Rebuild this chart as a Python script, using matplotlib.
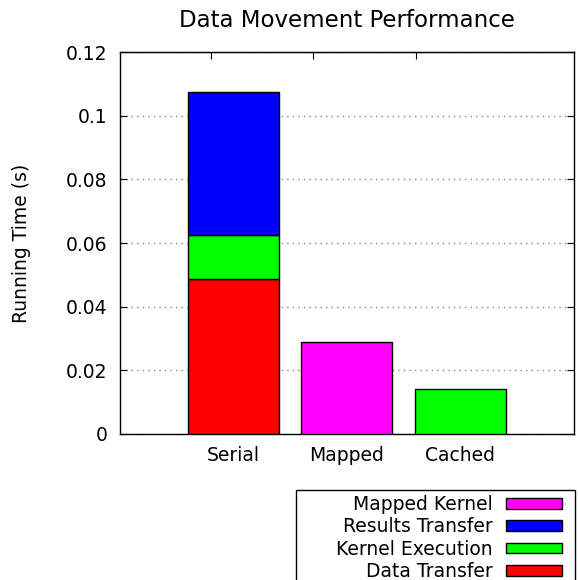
import numpy as np
import matplotlib
matplotlib.use("Agg")
import matplotlib.pyplot as plt
from matplotlib.patches import Patch, Rectangle

# data
categories = ["Serial", "Mapped", "Cached"]
data_transfer = [0.0487, 0, 0]
kernel_exec = [0.0138, 0, 0.0141]
results_transfer = [0.0450, 0, 0]
mapped_kernel = [0, 0.0288, 0]
yticks = [0, 0.02, 0.04, 0.06, 0.08, 0.1, 0.12]
ytick_labels = ["0", "0.02", "0.04", "0.06", "0.08", "0.1", "0.12"]

plt.rcParams['font.family'] = ['DejaVu Sans']
fig = plt.figure(figsize=(5.79, 5.80), dpi=100)
ax = fig.add_axes([0.207, 0.252, 0.784, 0.658])

x = np.arange(len(categories))
w = 0.8
dt = np.array(data_transfer)
ke = np.array(kernel_exec)
rt = np.array(results_transfer)
mk = np.array(mapped_kernel)

# serial stack + mapped + cached
ax.bar(x[0], dt[0], w, color="#ff0000", edgecolor="black", linewidth=1, zorder=3)
ax.bar(x[0], ke[0], w, bottom=dt[0], color="#00ff00", edgecolor="black", linewidth=1, zorder=3)
ax.bar(x[0], rt[0], w, bottom=dt[0] + ke[0], color="#0000ff", edgecolor="black", linewidth=1, zorder=3)
ax.bar(x[1], mk[1], w, color="#ff00ff", edgecolor="black", linewidth=1, zorder=3)
ax.bar(x[2], ke[2], w, color="#00ff00", edgecolor="black", linewidth=1, zorder=3)

ax.set_xlim(-1.0, 3.0)
ax.set_ylim(0, 0.12)
ax.set_xticks(x)
ax.set_xticklabels(categories, fontsize=13.5)
ax.tick_params(axis="x", length=0, pad=9)
ax.set_yticks(yticks)
ax.set_yticklabels(ytick_labels, fontsize=13.5)
ax.tick_params(axis="y", direction="in", length=5, right=True, pad=9)
ax.yaxis.grid(True, linestyle=(0, (1, 3)), color="#888888", linewidth=1, zorder=1)

# little ticks on the top border
top = ax.secondary_xaxis("top")
top.set_xticks([-0.2, 0.7, 1.61])
top.set_xticklabels([])
top.tick_params(direction="in", length=5)

for s in ax.spines.values():
    s.set_linewidth(1)

ax.set_ylabel("Running Time (s)", fontsize=13.5, labelpad=25)
ax.set_title("Data Movement Performance", fontsize=16.5, pad=18)

handles = [
    Patch(facecolor="#ff00ff", edgecolor="black", label="Mapped Kernel"),
    Patch(facecolor="#0000ff", edgecolor="black", label="Results Transfer"),
    Patch(facecolor="#00ff00", edgecolor="black", label="Kernel Execution"),
    Patch(facecolor="#ff0000", edgecolor="black", label="Data Transfer"),
]
leg = fig.legend(handles=handles, loc="upper right", bbox_to_anchor=(562 / 579, 1 - 495 / 580),
                 borderaxespad=0, markerfirst=False, fontsize=13.5, frameon=False,
                 handlelength=3.0, handleheight=0.5,
                 labelspacing=0.18, borderpad=0, handletextpad=0.7)

# legend box (runs off the bottom of the image)
fig.patches.append(Rectangle((296 / 579, -0.02), (575 - 296) / 579, 0.02 + 1 - 490 / 580,
                             transform=fig.transFigure, fill=False, edgecolor="black",
                             linewidth=1))

fig.savefig("out.png", dpi=100)
